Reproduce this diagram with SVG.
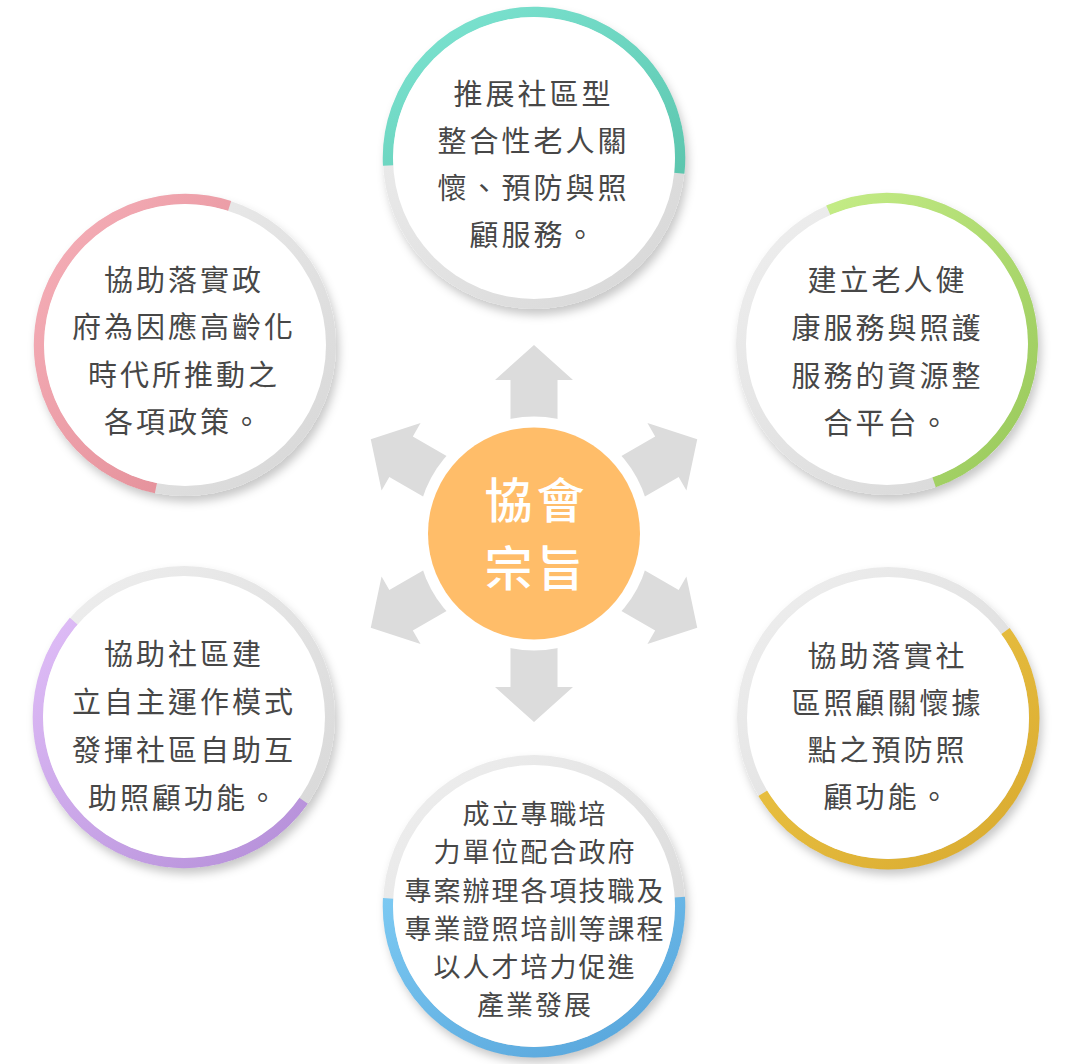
<svg xmlns="http://www.w3.org/2000/svg" width="1078" height="1064" viewBox="0 0 1078 1064">
  <defs>
    <filter id="shadow" x="-20%" y="-20%" width="140%" height="140%">
      <feDropShadow dx="3" dy="6" stdDeviation="5" flood-color="#000" flood-opacity="0.22"/>
    </filter>
    <linearGradient id="ringGray" x1="0" y1="0" x2="1" y2="1">
      <stop offset="0" stop-color="#f0f0f0"/>
      <stop offset="1" stop-color="#d6d6d6"/>
    </linearGradient>
    <linearGradient id="gTeal" x1="0" y1="0" x2="1" y2="1">
      <stop offset="0" stop-color="#7ee5d3"/>
      <stop offset="1" stop-color="#5cc6ae"/>
    </linearGradient>
    <linearGradient id="gGreen" x1="0" y1="0" x2="1" y2="1">
      <stop offset="0" stop-color="#c4ec86"/>
      <stop offset="1" stop-color="#98c85a"/>
    </linearGradient>
    <linearGradient id="gGold" x1="0" y1="0" x2="1" y2="1">
      <stop offset="0" stop-color="#efc948"/>
      <stop offset="1" stop-color="#d8a92f"/>
    </linearGradient>
    <linearGradient id="gBlue" x1="0" y1="0" x2="1" y2="1">
      <stop offset="0" stop-color="#7cc9f2"/>
      <stop offset="1" stop-color="#55a3da"/>
    </linearGradient>
    <linearGradient id="gPurple" x1="0" y1="0" x2="1" y2="1">
      <stop offset="0" stop-color="#dfbdf7"/>
      <stop offset="1" stop-color="#b48ed8"/>
    </linearGradient>
    <linearGradient id="gPink" x1="0" y1="0" x2="1" y2="1">
      <stop offset="0" stop-color="#f6b0b9"/>
      <stop offset="1" stop-color="#e28c96"/>
    </linearGradient>
    <polygon id="arrow" points="-23.5,-100 -23.5,-153.5 -39,-153.5 0,-188.5 39,-153.5 23.5,-153.5 23.5,-100"/>
  </defs>
  <style>
    .base { fill: url(#ringGray); filter: url(#shadow); }
    .inner { fill: #ffffff; }
    .arc { fill: none; stroke-width: 10.5; stroke-linecap: butt; }
    .txt { font-family: "Noto Sans CJK TC", "Noto Sans CJK SC", sans-serif; font-size: 29px; letter-spacing: 3px; fill: #474747; text-anchor: middle; }
    .small { font-size: 27px; letter-spacing: 2px; }
    .center { font-family: "Noto Sans CJK TC", "Noto Sans CJK SC", sans-serif; font-size: 48px; letter-spacing: 4px; font-weight: 500; fill: #ffffff; text-anchor: middle; }
    .arr { fill: #dcdcdc; }
  </style>
  <rect width="1078" height="1064" fill="#ffffff"/>

  <g id="connectors">
    <g transform="translate(534,533.5)">
      <use href="#arrow" class="arr" transform="rotate(0)"/>
      <use href="#arrow" class="arr" transform="rotate(60)"/>
      <use href="#arrow" class="arr" transform="rotate(120)"/>
      <use href="#arrow" class="arr" transform="rotate(180)"/>
      <use href="#arrow" class="arr" transform="rotate(240)"/>
      <use href="#arrow" class="arr" transform="rotate(300)"/>
    </g>
  </g>

  <g id="node-center">
    <circle cx="534" cy="533.5" r="117" fill="#ffffff"/>
    <circle cx="534" cy="533.5" r="106" fill="#ffbd69"/>
    <text class="center" x="536.5" y="518">協會</text>
    <text class="center" x="536.5" y="586">宗旨</text>
  </g>

  <g id="node-top">
    <circle class="base" cx="534" cy="158" r="151"/>
    <path class="arc" stroke="url(#gTeal)" d="M388.2,165.6 A146,146 0 1 1 679.2,173.3"/>
    <circle class="inner" cx="534" cy="158" r="141"/>
    <text class="txt" x="533.5" y="104.5">推展社區型</text>
    <text class="txt" x="533.5" y="151.5">整合性老人關</text>
    <text class="txt" x="533.5" y="198.5">懷、預防與照</text>
    <text class="txt" x="533.5" y="245.5">顧服務。</text>
  </g>

  <g id="node-top-right">
    <circle class="base" cx="887" cy="344" r="151"/>
    <path class="arc" stroke="url(#gGreen)" d="M828.3,210.3 A146,146 0 1 1 934.1,482.2"/>
    <circle class="inner" cx="887" cy="344" r="141"/>
    <text class="txt" x="887.5" y="290.5">建立老人健</text>
    <text class="txt" x="887.5" y="338.5">康服務與照護</text>
    <text class="txt" x="887.5" y="386.5">服務的資源整</text>
    <text class="txt" x="887.5" y="433.5">合平台。</text>
  </g>

  <g id="node-bottom-right">
    <circle class="base" cx="888" cy="718" r="151"/>
    <path class="arc" stroke="url(#gGold)" d="M1005.4,631.2 A146,146 0 1 1 762.9,793.2"/>
    <circle class="inner" cx="888" cy="718" r="141"/>
    <text class="txt" x="887.5" y="666.5">協助落實社</text>
    <text class="txt" x="887.5" y="713.5">區照顧關懷據</text>
    <text class="txt" x="887.5" y="760.5">點之預防照</text>
    <text class="txt" x="887.5" y="807.5">顧功能。</text>
  </g>

  <g id="node-bottom">
    <circle class="base" cx="534" cy="906" r="151"/>
    <path class="arc" stroke="url(#gBlue)" d="M679.7,897.1 A146,146 0 1 1 388.2,898.4"/>
    <circle class="inner" cx="534" cy="906" r="141"/>
    <text class="txt small" x="535" y="823.5">成立專職培</text>
    <text class="txt small" x="535" y="862">力單位配合政府</text>
    <text class="txt small" x="535" y="901">專案辦理各項技職及</text>
    <text class="txt small" x="535" y="939">專業證照培訓等課程</text>
    <text class="txt small" x="535" y="977">以人才培力促進</text>
    <text class="txt small" x="535" y="1015">產業發展</text>
  </g>

  <g id="node-bottom-left">
    <circle class="base" cx="184" cy="717" r="151"/>
    <path class="arc" stroke="url(#gPurple)" d="M303.6,800.7 A146,146 0 1 1 73.8,621.2"/>
    <circle class="inner" cx="184" cy="717" r="141"/>
    <text class="txt" x="184" y="664.5">協助社區建</text>
    <text class="txt" x="184" y="712.5">立自主運作模式</text>
    <text class="txt" x="184" y="760.5">發揮社區自助互</text>
    <text class="txt" x="184" y="808.5">助照顧功能。</text>
  </g>

  <g id="node-top-left">
    <circle class="base" cx="185" cy="345" r="151"/>
    <path class="arc" stroke="url(#gPink)" d="M155.9,488.1 A146,146 0 1 1 229.6,206.0"/>
    <circle class="inner" cx="185" cy="345" r="141"/>
    <text class="txt" x="184" y="290.5">協助落實政</text>
    <text class="txt" x="184" y="338">府為因應高齡化</text>
    <text class="txt" x="184" y="385.5">時代所推動之</text>
    <text class="txt" x="184" y="432.5">各項政策。</text>
  </g>
</svg>
